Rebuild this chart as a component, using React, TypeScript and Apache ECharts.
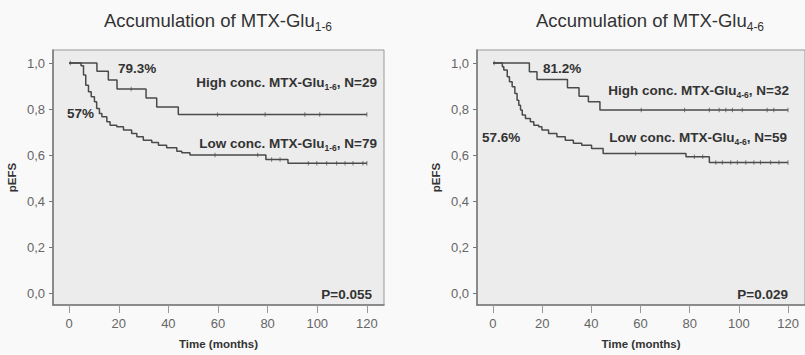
import React, { useEffect, useRef } from "react";
import * as echarts from "echarts";

// Left panel: MTX-Glu 1-6
const leftHighT = [0, 11.2, 15.8, 19.3, 31, 35.3, 44, 120];
const leftHighS = [1.0, 0.965, 0.926, 0.887, 0.848, 0.809, 0.776, 0.776];
const leftHighCens = [0.5, 25, 59.8, 79, 95, 101, 120];
const leftLowT = [0, 4.8, 5.8, 6.7, 7.8, 8.9, 10.2, 11.1, 12.2, 13.2, 15.2, 16.5, 19.2, 21.9, 25.2, 27.3, 29.9, 33.3, 36, 39.3, 43.4, 45.4, 48.7, 79.3, 88.2, 120];
const leftLowS = [1.0, 0.988, 0.948, 0.904, 0.875, 0.854, 0.832, 0.803, 0.781, 0.767, 0.745, 0.73, 0.723, 0.709, 0.694, 0.68, 0.665, 0.655, 0.643, 0.632, 0.617, 0.61, 0.6, 0.581, 0.564, 0.564];
const leftLowCens = [58.8, 76, 81.6, 85, 96.4, 99.8, 103.8, 107.8, 111.2, 114.4, 118.4, 120];

// Right panel: MTX-Glu 4-6
const rightHighT = [0, 14.8, 17.9, 30.3, 35, 38.8, 43.5, 120];
const rightHighS = [1.0, 0.962, 0.929, 0.893, 0.856, 0.832, 0.796, 0.796];
const rightHighCens = [0.5, 60.3, 77.9, 88, 92, 94.7, 97.4, 101.4, 111.5, 114.2, 120];
const rightLowT = [0, 3.8, 4.4, 5.8, 6.7, 7.8, 8.9, 9.8, 10.5, 11.2, 11.9, 13.2, 15.2, 16.6, 18.6, 19.9, 22.6, 26, 29.4, 32.7, 36.1, 40.1, 44.8, 78.5, 88, 120];
const rightLowS = [1.0, 0.984, 0.97, 0.941, 0.919, 0.897, 0.868, 0.839, 0.817, 0.796, 0.774, 0.759, 0.745, 0.73, 0.723, 0.709, 0.694, 0.68, 0.665, 0.651, 0.643, 0.629, 0.607, 0.593, 0.568, 0.568];
const rightLowCens = [58, 81.9, 85.3, 90.6, 93.3, 96.7, 99.4, 102.8, 106.1, 108.8, 112.9, 116.3, 120];

const xTicks = [0, 20, 40, 60, 80, 100, 120];
const yTicks = [0, 0.2, 0.4, 0.6, 0.8, 1.0];

const FONT = "'Liberation Sans', Arial, sans-serif";
const LINE = "#4a4a4a";

function pairs(t: number[], s: number[]) {
  return t.map((v, i) => [v, s[i]]);
}
function censPts(cens: number[], t: number[], s: number[]) {
  return cens.map((c) => {
    let val = s[0];
    for (let i = 0; i < t.length; i++) if (t[i] <= c) val = s[i];
    return [c, val];
  });
}

function xAxis(gridIndex: number) {
  return {
    type: "value",
    gridIndex,
    min: -6.5,
    max: 126.9,
    name: "Time (months)",
    nameLocation: "middle",
    nameGap: 33,
    nameTextStyle: { fontFamily: FONT, fontWeight: "bold", fontSize: 11.5, color: "#333" },
    axisLine: { show: true, onZero: false, lineStyle: { color: "#777", width: 1.5 } },
    axisTick: { show: true, customValues: xTicks, length: 8, lineStyle: { color: "#999" } },
    axisLabel: { customValues: xTicks, margin: 12, fontFamily: FONT, fontSize: 13, color: "#666" },
    splitLine: { show: false },
  };
}
function yAxis(gridIndex: number) {
  return {
    type: "value",
    gridIndex,
    min: -0.052,
    max: 1.057,
    name: "pEFS",
    nameLocation: "middle",
    nameRotate: 90,
    nameGap: 35,
    nameTextStyle: { fontFamily: FONT, fontWeight: "bold", fontSize: 11.5, color: "#333" },
    axisLine: { show: true, onZero: false, lineStyle: { color: "#777", width: 1.5 } },
    axisTick: { show: true, customValues: yTicks, length: 4, lineStyle: { color: "#777" } },
    axisLabel: {
      customValues: yTicks,
      margin: 8,
      fontFamily: FONT,
      fontSize: 13,
      color: "#666",
      formatter: (v: number) => v.toFixed(1).replace(".", ","),
    },
    splitLine: { show: false },
  };
}

function kmLine(idx: number, t: number[], s: number[]) {
  return {
    type: "line",
    xAxisIndex: idx,
    yAxisIndex: idx,
    step: "end",
    data: pairs(t, s),
    symbol: "none",
    lineStyle: { color: LINE, width: 1.5 },
    silent: true,
  };
}
function censSeries(idx: number, cens: number[], t: number[], s: number[]) {
  return {
    type: "scatter",
    xAxisIndex: idx,
    yAxisIndex: idx,
    data: censPts(cens, t, s),
    symbol: "rect",
    symbolSize: [1.1, 4.5],
    itemStyle: { color: "#666" },
    silent: true,
  };
}

const subRich = (size: number, main: number, pad: number) => ({
  m: { fontFamily: FONT, fontSize: main, fontWeight: "bold", color: "#333" },
  s: { fontFamily: FONT, fontSize: size, fontWeight: "bold", color: "#333", padding: [pad, 0, 0, 0] },
});

function label(x: number, y: number, text: string, align: string) {
  return {
    type: "text",
    x,
    y,
    z: 10,
    style: {
      text,
      align,
      verticalAlign: "middle",
      fill: "#333",
      font: `bold 13.5px ${FONT}`,
      rich: subRich(8.5, 13.5, 9),
    },
  };
}
function title(x: number, text: string) {
  return {
    type: "text",
    x,
    y: 20,
    style: {
      text,
      align: "center",
      verticalAlign: "middle",
      fill: "#333",
      font: `18.5px ${FONT}`,
      rich: {
        m: { fontFamily: FONT, fontSize: 18.5, color: "#333" },
        s: { fontFamily: FONT, fontSize: 12, color: "#333", padding: [14, 0, 0, 0] },
      },
    },
  };
}

export default function App() {
  const ref = useRef<HTMLDivElement>(null);
  useEffect(() => {
    if (!ref.current) return;
    const chart = echarts.init(ref.current, undefined, { renderer: "svg" });
    chart.setOption({
      animation: false,
      backgroundColor: "#f9f9f9",
      grid: [
        { left: 53, top: 50, width: 331, height: 255, show: true, backgroundColor: "#ececec", borderColor: "#999", borderWidth: 1 },
        { left: 477, top: 50, width: 331, height: 255, show: true, backgroundColor: "#ececec", borderColor: "#999", borderWidth: 1 },
      ],
      xAxis: [xAxis(0), xAxis(1)],
      yAxis: [yAxis(0), yAxis(1)],
      series: [
        kmLine(0, leftHighT, leftHighS),
        kmLine(0, leftLowT, leftLowS),
        censSeries(0, leftHighCens, leftHighT, leftHighS),
        censSeries(0, leftLowCens, leftLowT, leftLowS),
        kmLine(1, rightHighT, rightHighS),
        kmLine(1, rightLowT, rightLowS),
        censSeries(1, rightHighCens, rightHighT, rightHighS),
        censSeries(1, rightLowCens, rightLowT, rightLowS),
      ],
      graphic: [
        title(218, "{m|Accumulation of MTX-Glu}{s|1-6}"),
        title(650, "{m|Accumulation of MTX-Glu}{s|4-6}"),
        label(118, 68, "{m|79.3%}", "left"),
        label(67, 113, "{m|57%}", "left"),
        label(377, 82, "{m|High conc. MTX-Glu}{s|1-6}{m|, N=29}", "right"),
        label(377, 143, "{m|Low conc. MTX-Glu}{s|1-6}{m|, N=79}", "right"),
        label(372, 294, "{m|P=0.055}", "right"),
        label(543, 68, "{m|81.2%}", "left"),
        label(482, 137, "{m|57.6%}", "left"),
        label(789, 90, "{m|High conc. MTX-Glu}{s|4-6}{m|, N=32}", "right"),
        label(787, 137, "{m|Low conc. MTX-Glu}{s|4-6}{m|, N=59}", "right"),
        label(788, 294, "{m|P=0.029}", "right"),
      ],
    });
    return () => chart.dispose();
  }, []);
  return (
    <div
      ref={ref}
      style={{ position: "fixed", left: 0, top: 0, width: 805, height: 355 }}
    />
  );
}
